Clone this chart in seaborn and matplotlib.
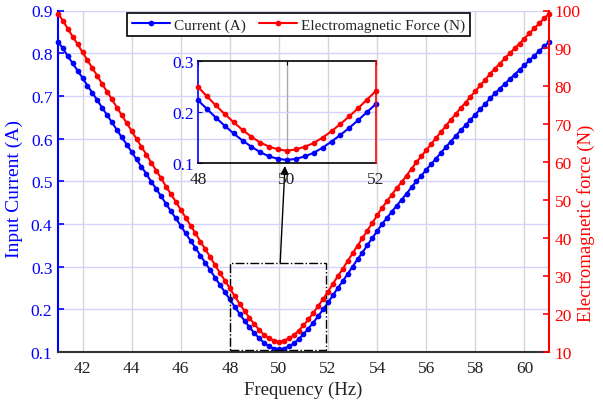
import numpy as np
import pandas as pd
import matplotlib
matplotlib.use("Agg")
import matplotlib.pyplot as plt
import seaborn as sns
from matplotlib.patches import Rectangle
from matplotlib.ticker import FormatStrFormatter

# ---------------- data ----------------
freq = np.round(np.linspace(41.0, 61.0, 101), 1)

current = [
    0.827, 0.811, 0.793, 0.776, 0.759, 0.742, 0.724, 0.707, 0.690, 0.672,
    0.655, 0.638, 0.620, 0.603, 0.586, 0.569, 0.551, 0.534, 0.517, 0.499,
    0.482, 0.465, 0.447, 0.430, 0.413, 0.396, 0.378, 0.361, 0.344, 0.326,
    0.309, 0.292, 0.274, 0.257, 0.240, 0.223, 0.206, 0.189, 0.173, 0.158,
    0.144, 0.132, 0.121, 0.113, 0.108, 0.106, 0.108, 0.113, 0.120, 0.130,
    0.142, 0.155, 0.169, 0.184, 0.200, 0.216, 0.233, 0.250, 0.266, 0.283,
    0.300, 0.317, 0.333, 0.350, 0.367, 0.383, 0.400, 0.414, 0.429, 0.443,
    0.457, 0.471, 0.486, 0.500, 0.513, 0.527, 0.540, 0.553, 0.567, 0.580,
    0.593, 0.606, 0.619, 0.631, 0.644, 0.656, 0.669, 0.681, 0.694, 0.706,
    0.717, 0.728, 0.739, 0.750, 0.761, 0.772, 0.783, 0.794, 0.805, 0.816,
    0.826,
]

force = [
    99.2, 97.3, 95.2, 93.1, 91.1, 89.0, 86.9, 84.8, 82.8, 80.6,
    78.6, 76.6, 74.4, 72.4, 70.3, 68.3, 66.1, 64.1, 62.0, 59.9,
    57.8, 55.8, 53.6, 51.6, 49.6, 47.5, 45.4, 43.3, 41.3, 39.1,
    37.1, 35.0, 32.9, 30.8, 28.8, 26.8, 24.7, 22.7, 20.8, 19.0,
    17.3, 15.8, 14.5, 13.6, 13.0, 12.7, 13.0, 13.6, 14.4, 15.6,
    17.0, 18.6, 20.3, 22.1, 24.0, 25.9, 28.0, 30.0, 31.9, 34.0,
    36.0, 38.0, 40.0, 42.0, 44.0, 46.0, 48.0, 49.7, 51.5, 53.2,
    54.8, 56.5, 58.3, 60.0, 61.6, 63.2, 64.8, 66.4, 68.0, 69.6,
    71.2, 72.7, 74.3, 75.7, 77.3, 78.7, 80.3, 81.7, 83.3, 84.7,
    86.0, 87.4, 88.7, 90.0, 91.3, 92.6, 94.0, 95.3, 96.6, 97.9,
    99.1,
]

x_ticks = [42, 44, 46, 48, 50, 52, 54, 56, 58, 60]
y_ticks_current = [0.1, 0.2, 0.3, 0.4, 0.5, 0.6, 0.7, 0.8, 0.9]
y_ticks_force = [10, 20, 30, 40, 50, 60, 70, 80, 90, 100]
inset_x_ticks = [48, 50, 52]
inset_y_ticks = [0.1, 0.2, 0.3]

labels = ["Current (A)", "Electromagnetic Force (N)"]

df = pd.DataFrame({"Frequency": freq, "Current": current, "Force": force})
df_in = df[(df["Frequency"] >= 48.0) & (df["Frequency"] <= 52.0)]

# ---------------- style ----------------
sns.set_style("white")
plt.rcParams["font.family"] = ["Liberation Serif", "DejaVu Serif"]
plt.rcParams["font.size"] = 12

BLUE = "#0000ff"
RED = "#ff0000"
GRIDV = "#d6d6d6"
GRIDH = "#d2d2fa"

fig = plt.figure(figsize=(6.03, 4.02), dpi=100)
ax = fig.add_axes([58 / 603, 1 - 353 / 402, 491 / 603, 341.5 / 402])

line_kw = dict(marker="o", markersize=4.1, markeredgewidth=0, linewidth=1.5)

sns.lineplot(data=df, x="Frequency", y="Current", ax=ax, color=BLUE,
             legend=False, clip_on=False, **line_kw)
ax2 = ax.twinx()
sns.lineplot(data=df, x="Frequency", y="Force", ax=ax2, color=RED,
             legend=False, clip_on=False, **line_kw)

ax.set_xlim(41, 61)
ax.set_ylim(0.1, 0.9)
ax2.set_ylim(10, 100)
ax.set_xticks(x_ticks)
ax.set_yticks(y_ticks_current)
ax2.set_yticks(y_ticks_force)
ax.yaxis.set_major_formatter(FormatStrFormatter("%.1f"))

ax.grid(False)
for xt in x_ticks:
    ax.axvline(xt, color=GRIDV, lw=1.0, zorder=0)
for yt in y_ticks_current:
    ax.axhline(yt, color=GRIDH, lw=1.0, zorder=0)

ax.set_xlabel("Frequency (Hz)", fontsize=13.5, color="#222222", labelpad=3)
ax.set_ylabel("Input Current (A)", fontsize=14, color=BLUE)
ax2.set_ylabel("Electromagnetic force (N)", fontsize=13.5, color=RED)
ax.yaxis.set_label_coords(-0.072, 0.48)
ax2.yaxis.set_label_coords(1.058, 0.38)

for s in ["top", "right"]:
    ax.spines[s].set_visible(False)
for s in ["top", "left", "bottom"]:
    ax2.spines[s].set_visible(False)
ax.spines["left"].set_color(BLUE)
ax.spines["left"].set_linewidth(1.5)
ax.spines["bottom"].set_color("#333333")
ax.spines["bottom"].set_linewidth(1.5)
ax2.spines["right"].set_color(RED)
ax2.spines["right"].set_linewidth(1.5)

ax.tick_params(axis="x", direction="in", length=4, width=1.2, colors="#333333",
               labelcolor="#222222", labelsize=12.5, pad=6)
ax.tick_params(axis="y", direction="in", length=4, width=1.2, colors=BLUE,
               labelcolor=BLUE, labelsize=12.5, pad=4)
ax2.tick_params(axis="y", direction="in", length=4, width=1.2, colors=RED,
                labelcolor=RED, labelsize=12.5, pad=4)

# legend
handles = [ax.lines[0], ax2.lines[0]]
leg = ax2.legend(handles, labels, loc="upper center", bbox_to_anchor=(0.49, 0.997),
                 ncol=2, frameon=True, fancybox=False, framealpha=1,
                 edgecolor="black", fontsize=11, handlelength=2.5,
                 columnspacing=0.8, handletextpad=0.3, borderpad=0.3,
                 borderaxespad=0.1)
leg.get_frame().set_linewidth(1.2)

# zoom box and arrow
ax.add_patch(Rectangle((48.0, 0.104), 3.9, 0.205, fill=False, ls="-.",
                       ec="black", lw=1.0, zorder=5))
ax.annotate("", xy=(285, 402 - 167), xycoords="figure pixels",
            xytext=(50.05, 0.309), textcoords="data",
            arrowprops=dict(arrowstyle="-|>", color="black", lw=1.0,
                            mutation_scale=12, shrinkA=0, shrinkB=0))

# ---------------- inset ----------------
axin = fig.add_axes([198 / 603, 1 - 164 / 402, 178 / 603, 102 / 402])
axin.set_facecolor("none")
sns.lineplot(data=df_in, x="Frequency", y="Current", ax=axin, color=BLUE,
             legend=False, clip_on=False, **line_kw)
axin2 = axin.twinx()
sns.lineplot(data=df_in, x="Frequency", y="Force", ax=axin2, color=RED,
             legend=False, clip_on=False, **line_kw)
axin.set_xlim(48, 52)
axin.set_ylim(0.1, 0.3)
axin2.set_ylim(10, 32.5)
axin.set_xticks(inset_x_ticks)
axin.set_yticks(inset_y_ticks)
axin.yaxis.set_major_formatter(FormatStrFormatter("%.1f"))
axin2.set_yticks([])
axin.grid(False)
axin.axvline(50, color="#aaaaaa", lw=1.0, zorder=0)
axin.axhline(0.2, color=GRIDH, lw=1.0, zorder=0)
axin.set_xlabel("")
axin.set_ylabel("")
axin2.set_ylabel("")
axin.spines["left"].set_color(BLUE)
axin.spines["right"].set_visible(False)
axin.spines["top"].set_color("black")
axin.spines["bottom"].set_color("black")
for s in ["left", "top", "bottom"]:
    axin2.spines[s].set_visible(False)
axin2.spines["right"].set_color(RED)
for sp in list(axin.spines.values()) + list(axin2.spines.values()):
    sp.set_linewidth(1.2)
axin.tick_params(axis="x", direction="in", length=3, top=True, colors="black",
                 labelcolor="#222222", labelsize=12.5, pad=6)
axin.tick_params(axis="y", direction="in", length=3, colors=BLUE,
                 labelcolor=BLUE, labelsize=12.5, pad=3)

fig.savefig("out.png", dpi=100)
